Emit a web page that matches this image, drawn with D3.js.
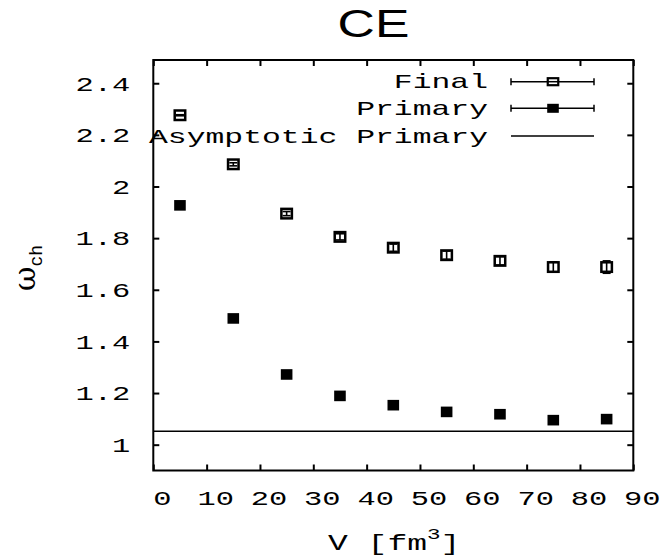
<!DOCTYPE html>
<html><head><meta charset="utf-8">
<script src="https://cdn.jsdelivr.net/npm/d3@7"></script>
<style>body{margin:0;background:#fff}</style>
</head><body>
<svg id="chart" width="660" height="555"></svg>
<script>
const xVals = [5, 15, 25, 35, 45, 55, 65, 75, 85];
const finalVals = [2.276, 2.086, 1.895, 1.805, 1.763, 1.734, 1.712, 1.688, 1.688];
const finalErr = [0.002, 0.006, 0.008, 0.012, 0.014, 0.016, 0.016, 0.020, 0.024];
const primaryVals = [1.927, 1.489, 1.272, 1.189, 1.153, 1.127, 1.118, 1.095, 1.099];
const primaryErr = [0.004, 0.005, 0.005, 0.005, 0.005, 0.005, 0.005, 0.005, 0.005];
const asymptoticPrimary = 1.052;
const xTicks = [0, 10, 20, 30, 40, 50, 60, 70, 80, 90];
const yTicks = [1, 1.2, 1.4, 1.6, 1.8, 2, 2.2, 2.4];
const legendLabels = ["Final", "Primary", "Asymptotic Primary"];
const titleText = "CE";

const svg = d3.select("#chart");
const x = d3.scaleLinear([0, 90], [153.3, 633.3]);
const y = d3.scaleLinear([0.9, 2.49], [470.5, 60]);
const MONO = "'Liberation Mono', monospace";
const SX = 1.52;
const SXL = 1.57;

// title
svg.append("text").attr("transform", "translate(373.5,37) scale(1.36,1)")
  .attr("text-anchor", "middle").attr("font-family", "'Liberation Sans', Arial, sans-serif")
  .attr("font-size", 38).text(titleText);

function styleAxis(g, labels) {
  g.select(".domain").remove();
  g.selectAll(".tick line").attr("stroke", "#000").attr("stroke-width", 2);
  if (!labels) g.selectAll(".tick text").remove();
}
const fmt = d3.format("~g");
// axes
svg.append("g").attr("transform", `translate(${x.range()[0]},0)`)
  .call(d3.axisLeft(y).tickValues(yTicks).tickFormat(fmt).tickSizeInner(-6).tickSizeOuter(0))
  .call(g => styleAxis(g, true))
  .call(g => g.selectAll(".tick text").attr("x", 0).attr("dy", "0.34em")
    .attr("transform", `translate(-23,0) scale(${SX},1)`)
    .attr("font-family", MONO).attr("font-size", 20).attr("fill", "#000"));
svg.append("g").attr("transform", `translate(${x.range()[1]},0)`)
  .call(d3.axisRight(y).tickValues(yTicks).tickSizeInner(-6).tickSizeOuter(0))
  .call(g => styleAxis(g, false));
svg.append("g").attr("transform", `translate(0,${y.range()[0]})`)
  .call(d3.axisBottom(x).tickValues(xTicks).tickFormat(fmt).tickSizeInner(-6).tickSizeOuter(0))
  .call(g => styleAxis(g, true))
  .call(g => g.selectAll(".tick text").attr("y", 0).attr("dy", 0)
    .attr("transform", `translate(8.5,34.5) scale(${SX},1)`)
    .attr("font-family", MONO).attr("font-size", 20).attr("fill", "#000"));
svg.append("g").attr("transform", `translate(0,${y.range()[1]})`)
  .call(d3.axisTop(x).tickValues(xTicks).tickSizeInner(-6).tickSizeOuter(0))
  .call(g => styleAxis(g, false));

// frame
svg.append("rect").attr("x", x.range()[0]).attr("y", y.range()[1])
  .attr("width", x.range()[1] - x.range()[0]).attr("height", y.range()[0] - y.range()[1])
  .attr("fill", "none").attr("stroke", "#000").attr("stroke-width", 2);

// axis titles
const xt = svg.append("text").attr("transform", "translate(328,550) scale(1.5,1)")
  .attr("font-family", MONO).attr("font-size", 22).attr("fill", "#000");
xt.append("tspan").text("V [fm");
xt.append("tspan").attr("font-size", 15).attr("dy", -11).text("3");
xt.append("tspan").attr("dy", 11).text("]");

const yt = svg.append("text").attr("transform", "translate(35,291) rotate(-90)")
  .attr("fill", "#000");
yt.append("tspan").attr("font-family", "'DejaVu Serif', 'Liberation Serif', serif").attr("font-size", 30).text("ω");
yt.append("tspan").attr("font-family", MONO).attr("font-size", 18).attr("dy", 7).text("ch");

// asymptotic line
svg.append("line").attr("x1", x(0)).attr("x2", x(90))
  .attr("y1", y(asymptoticPrimary)).attr("y2", y(asymptoticPrimary))
  .attr("stroke", "#000").attr("stroke-width", 1.4);

const BW = 10.5, BH = 9.5;
const finalData = xVals.map((v, i) => ({x: v, y: finalVals[i], e: finalErr[i]}));
const primData = xVals.map((v, i) => ({x: v, y: primaryVals[i], e: primaryErr[i]}));

// Final: open squares with error bars
const fg = svg.append("g").selectAll("g").data(finalData).join("g");
fg.append("rect").attr("x", d => x(d.x) - BW / 2).attr("y", d => y(d.y) - BH / 2)
  .attr("width", BW).attr("height", BH).attr("fill", "#fff").attr("stroke", "#000").attr("stroke-width", 2.5);
fg.append("line").attr("x1", d => x(d.x)).attr("x2", d => x(d.x))
  .attr("y1", d => y(d.y - d.e)).attr("y2", d => y(d.y + d.e)).attr("stroke", "#000").attr("stroke-width", 1.6);
fg.selectAll(".cap").data(d => [[d.x, d.y - d.e], [d.x, d.y + d.e]]).join("line")
  .attr("x1", d => x(d[0]) - 4).attr("x2", d => x(d[0]) + 4)
  .attr("y1", d => y(d[1])).attr("y2", d => y(d[1])).attr("stroke", "#000").attr("stroke-width", 1.6);

// Primary: filled squares
const pg = svg.append("g").selectAll("g").data(primData).join("g");
pg.append("line").attr("x1", d => x(d.x)).attr("x2", d => x(d.x))
  .attr("y1", d => y(d.y - d.e)).attr("y2", d => y(d.y + d.e)).attr("stroke", "#000").attr("stroke-width", 1.6);
pg.append("rect").attr("x", d => x(d.x) - 5.8).attr("y", d => y(d.y) - 5.3)
  .attr("width", 11.6).attr("height", 10.6).attr("fill", "#000");

// legend
const legY = [81.7, 108.3, 136];
const lg = svg.append("g");
legendLabels.forEach((t, i) => {
  lg.append("text").attr("transform", `translate(488,${legY[i] + 6.6}) scale(${SXL},1)`)
    .attr("text-anchor", "end").attr("font-family", MONO).attr("font-size", 20).attr("fill", "#000").text(t);
  lg.append("line").attr("x1", 511).attr("x2", 594).attr("y1", legY[i]).attr("y2", legY[i])
    .attr("stroke", "#000").attr("stroke-width", 1.5);
  if (i < 2) {
    [511, 594].forEach(cx => lg.append("line").attr("x1", cx).attr("x2", cx)
      .attr("y1", legY[i] - 3.5).attr("y2", legY[i] + 3.5).attr("stroke", "#000").attr("stroke-width", 1.5));
  }
});
lg.append("rect").attr("x", 553 - BW / 2).attr("y", legY[0] - 3.5).attr("width", BW).attr("height", 7)
  .attr("fill", "#fff").attr("stroke", "#000").attr("stroke-width", 2.2);
lg.append("line").attr("x1", 553 - 5).attr("x2", 553 + 5).attr("y1", legY[0]).attr("y2", legY[0])
  .attr("stroke", "#000").attr("stroke-width", 1.5);
lg.append("rect").attr("x", 553 - 5.8).attr("y", legY[1] - 4.5).attr("width", 11.6).attr("height", 9)
  .attr("fill", "#000");
</script>
</body></html>
